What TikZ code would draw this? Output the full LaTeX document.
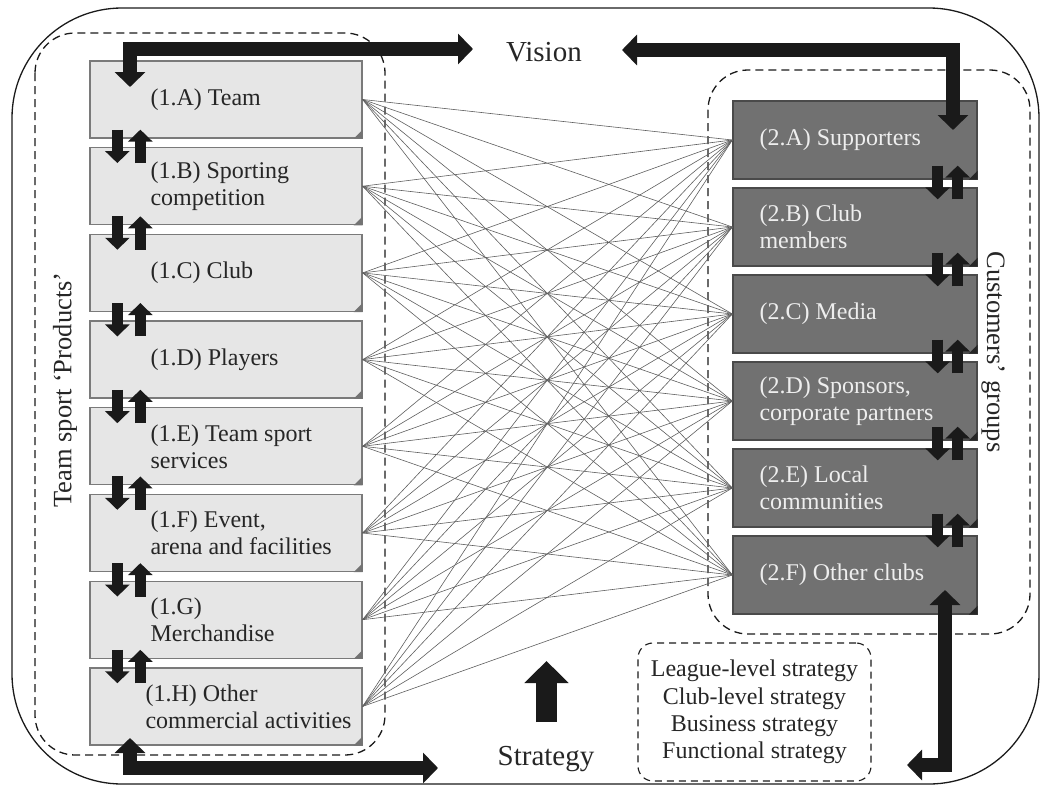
\documentclass[tikz,border=0pt]{standalone}
\usepackage{fontspec}
\setmainfont{Liberation Serif}
\usetikzlibrary{arrows.meta,calc}

\definecolor{prodfill}{HTML}{E6E6E6}
\definecolor{prodline}{HTML}{7A7A7A}
\definecolor{custfill}{HTML}{717171}
\definecolor{custline}{HTML}{4A4A4A}
\definecolor{custtext}{HTML}{EEEEEE}
\definecolor{ink}{HTML}{1A1A1A}
\definecolor{webline}{HTML}{5E5E5E}

\begin{document}
\begin{tikzpicture}[x=1pt,y=-1pt,
  frame/.style={draw=ink, line width=1.3pt, rounded corners=110pt},
  groupbox/.style={draw=ink, line width=1.3pt, dash pattern=on 8pt off 5pt, rounded corners=40pt},
  levelbox/.style={draw=ink, line width=1.1pt, dash pattern=on 7pt off 5pt, rounded corners=15pt},
  prodbox/.style={draw=prodline, fill=prodfill, line width=1.3pt, minimum width=272pt, minimum height=77pt, inner sep=0pt},
  custbox/.style={draw=custline, fill=custfill, line width=1.3pt, minimum width=244pt, minimum height=78pt, inner sep=0pt},
  boxtext/.style={font=\fontsize{24}{27}\selectfont, align=left, inner sep=0pt, anchor=west},
  prodtext/.style={boxtext, text=black!85},
  custtext/.style={boxtext, text=custtext},
  title/.style={font=\fontsize{29}{33}\selectfont, inner sep=0pt, text=black!85},
  sidelabel/.style={font=\fontsize{26.5}{30}\selectfont, inner sep=0pt, text=black!85},
  webline/.style={draw=webline, line width=0.6pt},
  bigarrow/.style={draw=ink, line width=14pt, line join=miter,
    {Triangle[width=30pt,length=15pt]}-{Triangle[width=30pt,length=15pt]}},
  pairarrow/.style={draw=ink, line width=11pt, -{Triangle[width=24pt,length=12pt]}},
  uparrow/.style={draw=ink, line width=21pt, -{Triangle[width=43pt,length=22pt]}}
]
\useasboundingbox (0,0) rectangle (1044,787);

% outer frame and the two dashed groups
\draw[frame] (12,8) rectangle (1039,784);
\draw[groupbox] (35,33) rectangle (385,755);
\draw[groupbox] (708,70) rectangle (1030,634);
\node[levelbox, minimum width=233pt, minimum height=138pt] (levels) at (754.5,712) {};

% products column
\foreach \k/\dx/\txt [count=\i from 0] in {
  A/61/{(1.A) Team},
  B/61/{(1.B) Sporting\\competition},
  C/61/{(1.C) Club},
  D/61/{(1.D) Players},
  E/61/{(1.E) Team sport\\services},
  F/61/{(1.F) Event,\\arena and facilities},
  G/61/{(1.G)\\Merchandise},
  H/56/{(1.H) Other\\commercial activities}} {
  \node[prodbox] (p\k) at (226,{99.5+86.7*\i}) {};
  \fill[black!55] (p\k.south east) -- ++(-9,0) -- ++(9,-9) -- cycle;
  \node[prodtext] (pt\k) at ($(p\k.west)+(\dx,0)$) {\txt};
}

% customer groups column
\foreach \k/\txt [count=\i from 0] in {
  A/{(2.A) Supporters},
  B/{(2.B) Club\\members},
  C/{(2.C) Media},
  D/{(2.D) Sponsors,\\corporate partners},
  E/{(2.E) Local\\communities},
  F/{(2.F) Other clubs}} {
  \node[custbox] (c\k) at (855,{140+87*\i}) {};
  \fill[black!85] (c\k.south east) -- ++(-9,0) -- ++(9,-9) -- cycle;
  \node[custtext] (ct\k) at ($(c\k.west)+(27,0)$) {\txt};
}

% every product linked to every customer group
\foreach \a in {A,B,C,D,E,F,G,H}
  \foreach \b in {A,B,C,D,E,F}
    \draw[webline] (p\a.east) -- (c\b.west);

% two-way links between neighbouring boxes
\foreach \u/\v in {A/B,B/C,C/D,D/E,E/F,F/G,G/H} {
  \draw[pairarrow] ($(p\u.south west)+(28,-9)$) -- ($(p\v.north west)+(28,16)$);
  \draw[pairarrow] ($(p\v.north west)+(51,16)$) -- ($(p\u.south west)+(51,-9)$);
}
\foreach \u/\v in {A/B,B/C,C/D,D/E,E/F} {
  \draw[pairarrow] ($(c\u.south east)+(-40,-14)$) -- ($(c\v.north east)+(-40,12)$);
  \draw[pairarrow] ($(c\v.north east)+(-20,12)$) -- ($(c\u.south east)+(-20,-14)$);
}

% titles and side labels
\node[title, anchor=base] (vision) at (544,61) {Vision};
\node[title, anchor=base] (strategy) at (546,765) {Strategy};
\node[sidelabel, rotate=90] (products) at (65,390) {Team sport ‘Products’};
\node[sidelabel, rotate=-90] (customers) at (993,352) {Customers’ groups};
\node[font=\fontsize{24}{27.3}\selectfont, align=center, inner sep=0pt, text=black!85] (levelstext)
  at (levels.center) {League-level strategy\\Club-level strategy\\Business strategy\\Functional strategy};

% vision and strategy links
\coordinate (tlV) at (473,49);
\coordinate (tlA) at (130,87);
\coordinate (trV) at (622,50);
\coordinate (trA) at (953,130);
\coordinate (blH) at (130,738);
\coordinate (blS) at (438,768);
\coordinate (brF) at (945,590);
\coordinate (brS) at (907,765);
\draw[bigarrow] (tlV) -| (tlA);
\draw[bigarrow] (trV) -| (trA);
\draw[bigarrow] (blH) |- (blS);
\draw[bigarrow] (brF) |- (brS);

\coordinate (stTail) at (546.5,722);
\coordinate (stTip) at (546.5,661);
\draw[uparrow] (stTail) -- (stTip);
\end{tikzpicture}
\end{document}
